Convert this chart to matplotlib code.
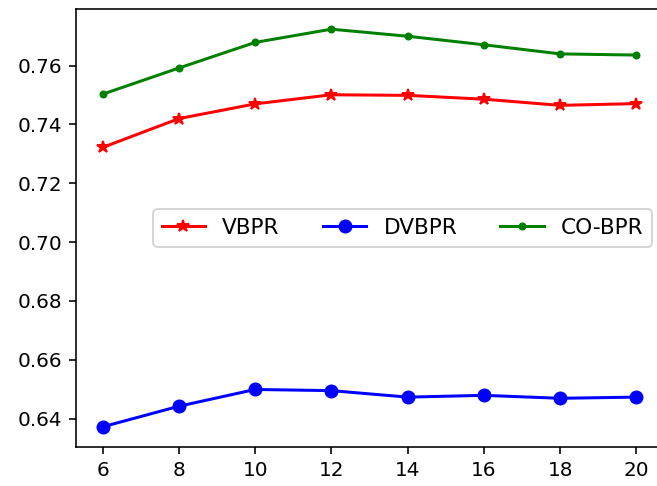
import matplotlib
matplotlib.use("Agg")
import matplotlib.pyplot as plt

x = [6, 8, 10, 12, 14, 16, 18, 20]
vbpr = [0.7322, 0.7420, 0.7470, 0.7501, 0.7499, 0.7486, 0.7465, 0.7471]
dvbpr = [0.6372, 0.6442, 0.6499, 0.6495, 0.6473, 0.6479, 0.6469, 0.6473]
cobpr = [0.7503, 0.7592, 0.7679, 0.7724, 0.7700, 0.7671, 0.7640, 0.7636]

dpi = 144
fig = plt.figure(figsize=(657 / dpi, 486 / dpi), dpi=dpi)
ax = fig.add_axes([76 / 657, 39.3 / 486, 587 / 657, 437.4 / 486])
ax.plot(x, vbpr, color="red", marker="*", label="VBPR")
ax.plot(x, dvbpr, color="blue", marker="o", label="DVBPR")
ax.plot(x, cobpr, color="green", marker=".", label="CO-BPR")
ax.set_xticks(x)
ax.legend(loc="center right", ncol=3, fontsize=10.8)
fig.savefig("out.png", dpi=dpi)
